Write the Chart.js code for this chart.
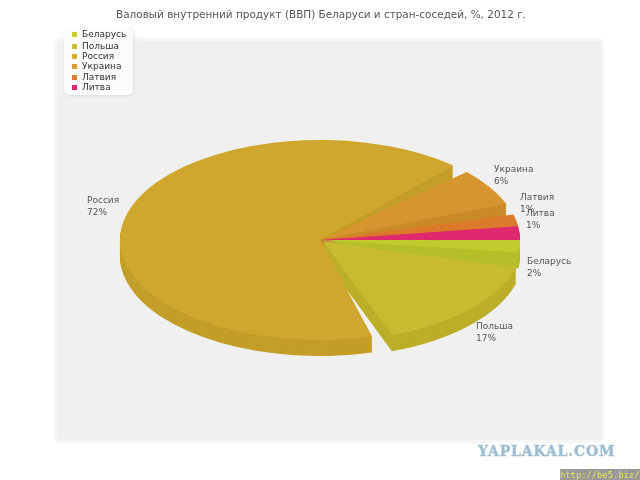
<!DOCTYPE html>
<html>
<head>
<meta charset="utf-8">
<title>ВВП</title>
<script src="https://cdn.jsdelivr.net/npm/chart.js@4"></script>
<style>
html, body { margin: 0; padding: 0; background: #fff; }
#wrap { position: relative; width: 640px; height: 480px; overflow: hidden; font-family: "DejaVu Sans", sans-serif; }
#panel { position: absolute; left: 54px; top: 38px; width: 544px; height: 399px; background: #f0f0f0; border: 3px solid #f6f6f6; border-radius: 6px; }
#mycanvas { position: absolute; left: 0; top: 0; }
#title { position: absolute; left: 0; top: 8px; width: 642px; text-align: center; font-size: 10.45px; line-height: 13px; color: #555; }
#legend { position: absolute; left: 64px; top: 28px; width: 69px; height: 67px; background: #fbfbfb; border-radius: 5px; box-shadow: 1px 1px 3px #ddd; }
#legend div { position: absolute; left: 18px; font-size: 9px; line-height: 11px; color: #333; white-space: nowrap; }
#legend i { position: absolute; left: -10px; top: 3px; width: 5px; height: 5px; }
#mark { position: absolute; left: 478px; top: 443px; font: bold 14px "DejaVu Serif", serif; color: #9dbdd2; letter-spacing: 0.85px; -webkit-text-stroke: 0.4px #9dbdd2; }
#link { position: absolute; left: 560px; top: 469px; width: 80px; height: 11px; background: #999; color: #e6e65a; font: 8.8px/12px "DejaVu Sans Mono", monospace; white-space: nowrap; overflow: hidden; }
</style>
</head>
<body>
<div id="wrap">
	<div id="panel"></div>
	<canvas id="mycanvas" width="640" height="480"></canvas>
	<div id="title"></div>
	<div id="legend"></div>
	<div id="mark">YAPLAKAL.COM</div>
	<div id="link">http://be5.biz/</div>
</div>
<script>
var chartTitle = "Валовый внутренний продукт (ВВП) Беларуси и стран-соседей, %, 2012 г.";
var categories = ["Беларусь", "Польша", "Россия", "Украина", "Латвия", "Литва"];
// percentages printed next to the slices
var percents = [2, 17, 72, 6, 1, 1];
// share of the circle each slice really covers in the picture, and the gap after it
var sweeps = [2, 15.2, 65.8, 6, 1.9, 2.2];
var gaps = [2.2, 1.4, 1.5, 1.8, 0, 0];
// how far a slice is pulled out of the pie
var explode = [0, 4, 0, 0, 0, 0];

var topColors = ["#c2cb2e", "#c7bb2f", "#cfa72e", "#d6952e", "#da7a2a", "#e0286f"];
var wallColors = ["#b4bf2a", "#bcae29", "#c39e28", "#c98b28", "#cc6f25", "#cf2366"];
var legendColors = ["#c8d02f", "#cdbf32", "#d8ae36", "#dc9a35", "#dd7c2c", "#e0286f"];
var legendRows = [1, 13, 23, 32.5, 44, 54];
// left and top of each pie label
var labelSpots = [[527, 257], [476, 322], [87, 196], [494, 165], [520, 193], [526, 209]];

var depth = 16;
var squash = 0.5;
// back to front
var drawOrder = [2, 3, 4, 5, 0, 1];

document.getElementById("title").textContent = chartTitle;
var legend = document.getElementById("legend");
for (var i in categories) {
	var row = document.createElement("div");
	row.style.top = legendRows[i] + "px";
	row.textContent = categories[i];
	var box = document.createElement("i");
	box.style.background = legendColors[i];
	row.appendChild(box);
	legend.appendChild(row);
}

var rows = [];
var colors = [];
for (var i in categories) {
	rows.push(sweeps[i]);
	colors.push(topColors[i]);
	rows.push(gaps[i]);
	colors.push("rgba(0,0,0,0)");
}

function paintArc(ctx, arc, color, pull, drop) {
	var saved = arc.options;
	var mid = (arc.startAngle + arc.endAngle) / 2;
	arc.options = Object.assign({}, saved, { backgroundColor: color, borderWidth: 0, offset: 0, spacing: 0, borderRadius: 0 });
	ctx.save();
	ctx.translate(Math.cos(mid) * pull, Math.sin(mid) * pull + drop);
	arc.draw(ctx);
	ctx.restore();
	arc.options = saved;
}

var pie3d = {
	id: "pie3d",
	beforeDatasetDraw: function(chart) {
		var ctx = chart.ctx;
		var arcs = chart.getDatasetMeta(0).data;
		var cx = arcs[0].x, cy = arcs[0].y;
		ctx.save();
		ctx.translate(cx, cy);
		ctx.scale(1, squash);
		ctx.translate(-cx, -cy);
		// all side walls first, the tops go over them
		drawOrder.forEach(function(n) {
			for (var d = depth; d > 0; d--) {
				paintArc(ctx, arcs[n * 2], wallColors[n], explode[n], d / squash);
			}
		});
		drawOrder.forEach(function(n) {
			paintArc(ctx, arcs[n * 2], topColors[n], explode[n], 0);
		});
		ctx.restore();
		return false;
	},
	afterDatasetsDraw: function(chart) {
		var ctx = chart.ctx;
		ctx.save();
		ctx.font = '9px "DejaVu Sans"';
		ctx.fillStyle = "#555";
		ctx.textBaseline = "top";
		for (var i in categories) {
			ctx.fillText(categories[i], labelSpots[i][0], labelSpots[i][1]);
			ctx.fillText(percents[i] + "%", labelSpots[i][0], labelSpots[i][1] + 12);
		}
		ctx.restore();
	}
};

var ctx = document.getElementById("mycanvas");
var pieChart = new Chart(ctx, {
	type: "pie",
	data: {
		labels: rows.map(function(v, i) { return i % 2 ? "" : categories[i / 2]; }),
		datasets: [{ data: rows, backgroundColor: colors, borderWidth: 0 }]
	},
	options: {
		responsive: false,
		animation: false,
		rotation: 90,
		layout: { padding: { top: 40, bottom: 40, left: 120, right: 120 } },
		plugins: { legend: { display: false }, tooltip: { enabled: false } }
	},
	plugins: [pie3d]
});
</script>
</body>
</html>
